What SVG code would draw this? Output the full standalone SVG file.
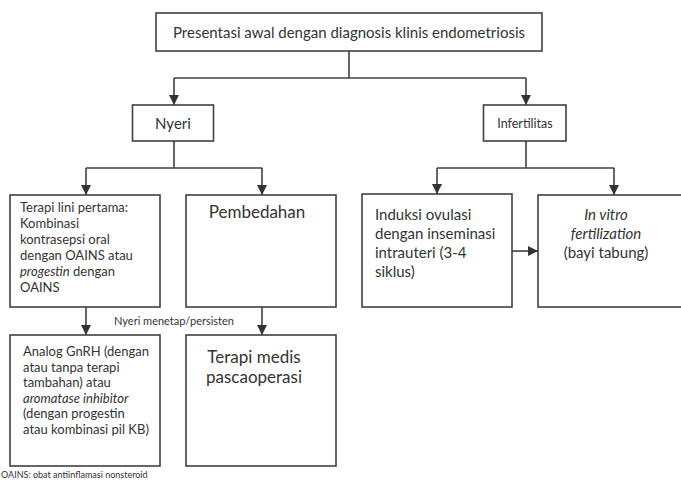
<svg xmlns="http://www.w3.org/2000/svg" width="681" height="487" viewBox="0 0 681 487">
<style>
  .box { fill: #ffffff; stroke: #404040; stroke-width: 1.6; }
  .line { fill: none; stroke: #404040; stroke-width: 1.6; }
  text { font-family: Lato, "Open Sans", "Liberation Sans", sans-serif; fill: #333333; }
  .it { font-style: italic; }
  .sm { font-size: 13px; }
  .md { font-size: 15px; }
</style>
<defs>
  <marker id="arrow" markerUnits="userSpaceOnUse" markerWidth="12" markerHeight="12" refX="10" refY="5" orient="auto">
    <path d="M0,0 L10,5 L0,10 z" fill="#333333"/>
  </marker>
</defs>
<rect width="681" height="487" fill="#ffffff"/>

<g id="connectors">
  <path class="line" d="M349,51 V78 M174,78 H526"/>
  <path class="line" d="M174,78 V105" marker-end="url(#arrow)"/>
  <path class="line" d="M526,78 V105" marker-end="url(#arrow)"/>
  <path class="line" d="M174,141 V168 M86,168 H262"/>
  <path class="line" d="M86,168 V195" marker-end="url(#arrow)"/>
  <path class="line" d="M262,168 V195" marker-end="url(#arrow)"/>
  <path class="line" d="M526,141 V168 M437,168 H614"/>
  <path class="line" d="M437,168 V194" marker-end="url(#arrow)"/>
  <path class="line" d="M614,168 V195" marker-end="url(#arrow)"/>
  <path class="line" d="M512,251 H538" marker-end="url(#arrow)"/>
  <path class="line" d="M86,307 V335" marker-end="url(#arrow)"/>
  <path class="line" d="M262,307 V335" marker-end="url(#arrow)"/>
  <text x="174" y="325" font-size="11" text-anchor="middle">Nyeri menetap/persisten</text>
</g>

<g id="presentasi">
  <rect class="box" x="156" y="13" width="386" height="38"/>
  <text x="349" y="38" font-size="15" text-anchor="middle">Presentasi awal dengan diagnosis klinis endometriosis</text>
</g>

<g id="nyeri">
  <rect class="box" x="132.5" y="105" width="81" height="36"/>
  <text x="173" y="129" font-size="15" text-anchor="middle">Nyeri</text>
</g>

<g id="infertilitas">
  <rect class="box" x="483.5" y="105" width="82.5" height="36"/>
  <text x="525" y="128" font-size="12.5" text-anchor="middle">Infertilitas</text>
</g>

<g id="terapi-lini">
  <rect class="box" x="10" y="195" width="150" height="112"/>
  <text class="sm" x="20" y="212">Terapi lini pertama:</text>
  <text class="sm" x="20" y="228">Kombinasi</text>
  <text class="sm" x="20" y="244">kontrasepsi oral</text>
  <text class="sm" x="20" y="260">dengan OAINS atau</text>
  <text class="sm" x="20" y="276"><tspan class="it">progestin</tspan> dengan</text>
  <text class="sm" x="20" y="292">OAINS</text>
</g>

<g id="pembedahan">
  <rect class="box" x="186" y="195" width="150" height="112"/>
  <text x="257" y="218" font-size="17" text-anchor="middle">Pembedahan</text>
</g>

<g id="induksi">
  <rect class="box" x="362" y="194" width="150" height="113"/>
  <text class="md" x="375" y="220">Induksi ovulasi</text>
  <text class="md" x="375" y="239">dengan inseminasi</text>
  <text class="md" x="375" y="258">intrauteri (3-4</text>
  <text class="md" x="375" y="277">siklus)</text>
</g>

<g id="ivf">
  <rect class="box" x="538" y="195" width="150" height="112"/>
  <text class="md it" x="606" y="220" text-anchor="middle">In vitro</text>
  <text class="md it" x="606" y="239" text-anchor="middle">fertilization</text>
  <text class="md" x="606" y="258" text-anchor="middle">(bayi tabung)</text>
</g>

<g id="analog">
  <rect class="box" x="10" y="335" width="150" height="131"/>
  <text class="sm" x="23" y="356">Analog GnRH (dengan</text>
  <text class="sm" x="23" y="372">atau tanpa terapi</text>
  <text class="sm" x="23" y="387">tambahan) atau</text>
  <text class="sm it" x="23" y="403">aromatase inhibitor</text>
  <text class="sm" x="23" y="418">(dengan progestin</text>
  <text class="sm" x="23" y="434">atau kombinasi pil KB)</text>
</g>

<g id="terapi-medis">
  <rect class="box" x="186" y="335" width="150" height="131"/>
  <text x="254" y="363" font-size="17" text-anchor="middle">Terapi medis</text>
  <text x="254" y="383" font-size="17" text-anchor="middle">pascaoperasi</text>
</g>

<text x="1" y="478" font-size="9">OAINS: obat antiinflamasi nonsteroid</text>
</svg>
